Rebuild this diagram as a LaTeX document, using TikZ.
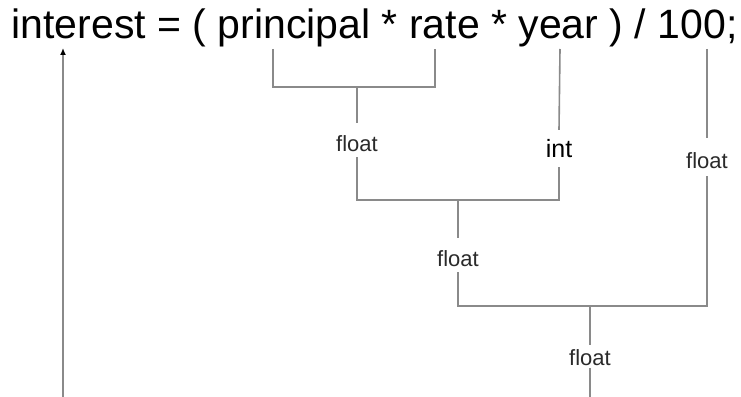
\documentclass[tikz,border=0pt]{standalone}
\usepackage{fontspec}
\setmainfont{Liberation Sans}
\usetikzlibrary{arrows.meta}
\definecolor{linegray}{HTML}{8A8A8A}
\definecolor{labelgray}{HTML}{2A2A2A}
\tikzset{
  conn/.style={draw=linegray, line width=1.6pt},
  typelabel/.style={anchor=base, text=labelgray, font=\fontsize{22}{26}\selectfont,
    inner xsep=2pt, inner ysep=6pt, text height=22pt, text depth=0pt},
  intlabel/.style={anchor=base, text=black, font=\fontsize{25}{29}\selectfont,
    inner xsep=2pt, inner ysep=10pt, text height=17pt, text depth=0pt},
}
\begin{document}
\begin{tikzpicture}[x=1pt,y=-1pt]
\useasboundingbox (0,0) rectangle (741,396);
\fill[white] (0,0) rectangle (741,396);

\node[anchor=base west, inner sep=0pt, text=black, font=\fontsize{41}{48}\selectfont]
  (title) at (11.5,39) {interest = ( principal * rate * year ) / 100;};

% coordinates
\coordinate (tP) at (273,49);
\coordinate (tR) at (435,49);
\coordinate (j1) at (357,87);
\coordinate (tY) at (560,49);
\coordinate (j2) at (458,200);
\coordinate (t100) at (707,49);
\coordinate (j3) at (590,306);
\coordinate (fbot) at (590,397);
\coordinate (abot) at (63,397);
\coordinate (atip) at (63,48);

% labels
\node[typelabel] (f1) at (357,151) {float};
\node[intlabel] (int) at (559,157) {int};
\node[typelabel] (f2) at (458,266) {float};
\node[typelabel, inner ysep=8pt] (f3) at (707,168) {float};
\node[typelabel, inner ysep=3pt, text height=17pt] (f4) at (590,365) {float};

% connectors
\draw[conn] (tP) |- (j1) -| (tR);
\draw[conn] (j1) -- (f1.north);
\draw[conn] (tY) -- (int.north);
\draw[conn] (f1.south) |- (j2) -| (int.south);
\draw[conn] (j2) -- (f2.north);
\draw[conn] (t100) -- (f3.north);
\draw[conn] (f2.south) |- (j3) -| (f3.south);
\draw[conn] (j3) -- (f4.north);
\draw[conn] (f4.south) -- (fbot);
\draw[conn, -{Latex[length=7pt,width=6pt,color=black]}] (abot) -- (atip);
\end{tikzpicture}
\end{document}
